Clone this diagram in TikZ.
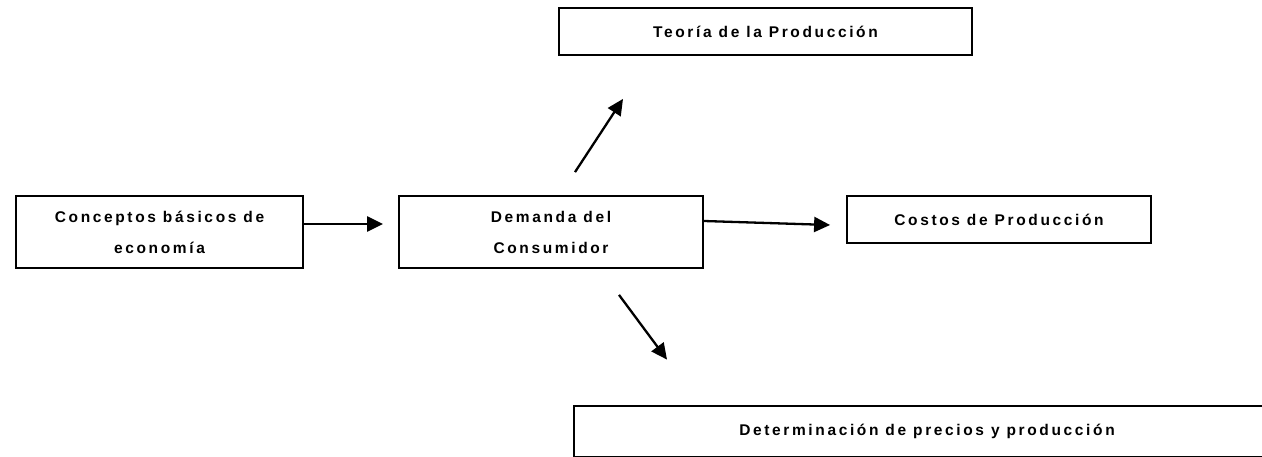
\documentclass[tikz,border=0pt]{standalone}
\usepackage{fontspec}
\setmainfont{Liberation Sans}[LetterSpace=17]
\usepackage{tikz}
\usetikzlibrary{arrows.meta}

\begin{document}
\begin{tikzpicture}[x=1pt, y=1pt,
    topicbox/.style={draw, line width=1.8pt, inner sep=0pt, align=center,
        font=\fontsize{15.5}{31}\selectfont\bfseries},
    flow/.style={line width=2.3pt, -{Triangle[length=16pt, width=15pt]}}]
                \useasboundingbox (0,0) rectangle (1262,456);
                \clip (0,0) rectangle (1262,456);
                \node[topicbox, minimum width=287pt, minimum height=72pt] (basicos) at (159.5,224) {Conceptos básicos de\\economía};
                \node[topicbox, minimum width=304pt, minimum height=72pt] (demanda) at (551,224) {Demanda del\\Consumidor};
                \node[topicbox, minimum width=304pt, minimum height=47pt] (costos) at (999,236.5) {Costos de Producción};
                \node[topicbox, minimum width=413pt, minimum height=47pt] (teoria) at (765.5,424.5) {Teoría de la Producción};
                \node[topicbox, minimum width=706pt, minimum height=51pt] (precios) at (927,24.5) {Determinación de precios y producción};
                \draw[flow] ([yshift=8pt]basicos.east) -- ([xshift=-15pt, yshift=8pt]demanda.west);
                \draw[flow] ([yshift=11pt]demanda.east) -- ([xshift=-16pt, yshift=-5.5pt]costos.west);
                \draw[flow] ([xshift=24pt, yshift=23pt]demanda.north) -- ([xshift=-142.5pt, yshift=-43pt]teoria.south);
                \draw[flow] ([xshift=68pt, yshift=-26pt]demanda.south) -- ([xshift=-260pt, yshift=45.5pt]precios.north);
            \end{tikzpicture}
\end{document}
